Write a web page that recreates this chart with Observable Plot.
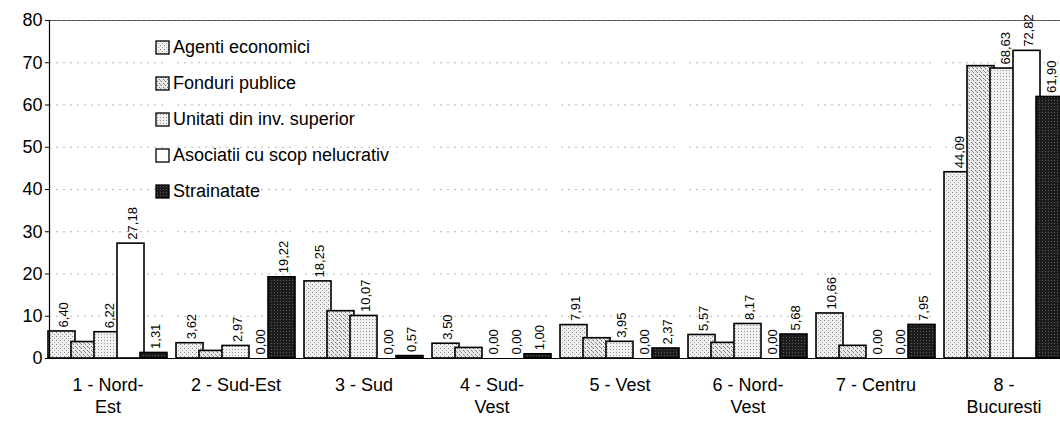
<!DOCTYPE html>
<html>
<head>
<meta charset="utf-8">
<script src="https://cdn.jsdelivr.net/npm/d3@7"></script>
<script src="https://cdn.jsdelivr.net/npm/@observablehq/plot@0.6"></script>
<style>
  body { margin: 0; background: #fff; font-family: "Liberation Sans", Arial, sans-serif; }
  #wrap { position: relative; width: 1060px; height: 430px; overflow: hidden; background: #fff; }
  #legend { position: absolute; left: 156px; top: 29px; width: 340px; }
  #legend > div { font-family: "Liberation Sans", Arial, sans-serif !important; font-size: 18px !important; color: #000; margin: 0 !important; }
  #legend [class$="-swatch"] { height: 36px; padding: 0; display: flex; align-items: center; }
  #legend [class$="-swatch"] svg { margin-right: 4px; overflow: visible; }
  #legend [class$="-swatch"] svg rect { stroke: #000; stroke-width: 1.3; }
  #legend [class$="-swatch-label"] { overflow: visible; font-size: 18px; }
</style>
</head>
<body>
<svg width="0" height="0" style="position:absolute">
  <defs>
    <pattern id="pAgenti" width="4" height="4" patternUnits="userSpaceOnUse">
      <rect width="4" height="4" fill="#efefef"/>
      <rect x="0" y="0" width="1" height="1" fill="#858585"/>
      <rect x="2" y="2" width="1" height="1" fill="#a0a0a0"/>
    </pattern>
    <pattern id="pFonduri" width="4" height="4" patternUnits="userSpaceOnUse">
      <rect width="4" height="4" fill="#e9e9e9"/>
      <rect x="1" y="0" width="1" height="1" fill="#777"/>
      <rect x="3" y="2" width="1" height="1" fill="#777"/>
      <rect x="0" y="3" width="1" height="1" fill="#999"/>
    </pattern>
    <pattern id="pUnitati" width="3" height="3" patternUnits="userSpaceOnUse">
      <rect width="3" height="3" fill="#f1f1f1"/>
      <rect x="1" y="1" width="1" height="1" fill="#9a9a9a"/>
    </pattern>
    <pattern id="pStrain" width="3" height="3" patternUnits="userSpaceOnUse">
      <rect width="3" height="3" fill="#1c1c1c"/>
      <rect x="1" y="1" width="1" height="1" fill="#5a5a5a"/>
    </pattern>
  </defs>
</svg>
<div id="wrap">
  <div id="chart"></div>
  <div id="legend"></div>
</div>
<script>
// ---- data ----
const regions = ["1 - Nord-\nEst", "2 - Sud-Est", "3 - Sud", "4 - Sud-\nVest", "5 - Vest", "6 - Nord-\nVest", "7 - Centru", "8 -\nBucuresti"];
const series = ["Agenti economici", "Fonduri publice", "Unitati din inv. superior", "Asociatii cu scop nelucrativ", "Strainatate"];
const agentiEconomici = [6.40, 3.62, 18.25, 3.50, 7.91, 5.57, 10.66, 44.09];
const fonduriPublice  = [3.9, 1.8, 11.2, 2.5, 4.8, 3.7, 3.0, 69.2];
const unitatiInvSup   = [6.22, 2.97, 10.07, 0.00, 3.95, 8.17, 0.00, 68.63];
const asociatii       = [27.18, 0.00, 0.00, 0.00, 0.00, 0.00, 0.00, 72.82];
const strainatate     = [1.31, 19.22, 0.57, 1.00, 2.37, 5.68, 7.95, 61.90];
const seriesLabelled  = [true, false, true, true, true];
const yTicks = [0, 10, 20, 30, 40, 50, 60, 70, 80];

// ---- styles ----
const seriesFills = ["url(#pAgenti)", "url(#pFonduri)", "url(#pUnitati)", "#ffffff", "url(#pStrain)"];

const values = [agentiEconomici, fonduriPublice, unitatiInvSup, asociatii, strainatate];
const rows = regions.flatMap((r, i) => series.map((s, j) => ({
  region: r, series: s, value: values[j][i], labelled: seriesLabelled[j]
})));
const fmt = v => d3.format(".2f")(v).replace(".", ",");

const font = "Liberation Sans, Arial, sans-serif";

const chart = Plot.plot({
  width: 1060,
  height: 430,
  marginLeft: 45,
  marginRight: -7,
  marginTop: 20,
  marginBottom: 72,
  style: { fontFamily: font, fontSize: "18px", background: "#fff", color: "#000" },
  fx: { domain: regions, paddingInner: 0.085, paddingOuter: 0.015, label: null },
  x: { domain: series, padding: 0, axis: null },
  y: { domain: [0, 80], label: null },
  color: { type: "ordinal", domain: series, range: seriesFills },
  marks: [
    Plot.gridY(yTicks.filter(v => v > 0 && v < 80), { stroke: "#888", strokeOpacity: 0.6, strokeDasharray: "2,5" }),
    Plot.frame({ facet: "super", anchor: "top", stroke: "#555", strokeDasharray: "1.5,1" }),
    Plot.barY(rows, {
      fx: "region", x: "series", y: "value", fill: "series",
      stroke: "#000", strokeWidth: 1.6, insetLeft: -2, insetRight: -2
    }),
    Plot.text(rows.filter(d => d.labelled), {
      fx: "region", x: "series", y: "value", text: d => fmt(d.value),
      rotate: -90, textAnchor: "start", dy: -4, dx: 2, fontSize: 13, fill: "#000"
    }),
    Plot.frame({ facet: "super", anchor: "left", stroke: "#000", strokeWidth: 1.2 }),
    Plot.frame({ facet: "super", anchor: "bottom", stroke: "#000", strokeWidth: 1.2 }),
    Plot.axisY(yTicks, { anchor: "left", tickSize: 4, tickPadding: 3, fontSize: 18, label: null }),
    Plot.axisFx({ anchor: "bottom", tickSize: 0, tickPadding: 17, fontSize: 18, lineHeight: 1.22, label: null })
  ]
});
document.getElementById("chart").appendChild(chart);

const legend = chart.legend("color", { columns: 1, swatchSize: 13, style: { fontSize: "18px", fontFamily: font, color: "#000" } });
document.getElementById("legend").appendChild(legend);
</script>
</body>
</html>
